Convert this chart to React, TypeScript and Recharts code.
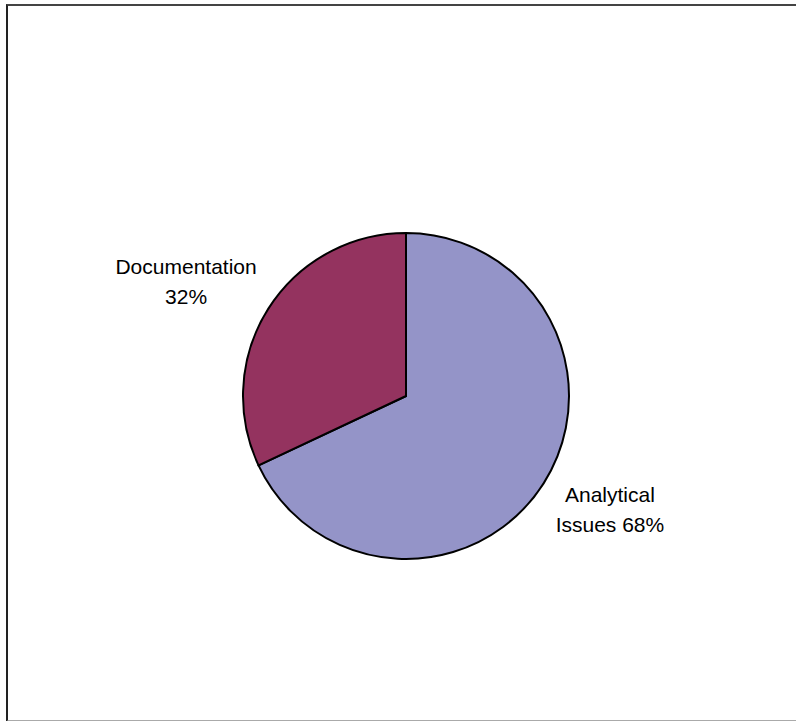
import React from 'react';
import { PieChart, Pie, Cell } from 'recharts';

const categories = ['Analytical Issues', 'Documentation'];
const shares = [68, 32];
const labelLines = [['Analytical', 'Issues 68%'], ['Documentation', '32%']];
const colors = ['#9494C8', '#94335F'];

const data = categories.map((name, i) => ({ name, value: shares[i] }));

const RAD = Math.PI / 180;

// labels sit on an ellipse around the pie, a bit wider than tall
const renderLabel = (props: any) => {
  const { cx, cy, midAngle, outerRadius, index } = props;
  const rx = outerRadius + 88;
  const ry = outerRadius + 50;
  const x = cx + rx * Math.cos(-midAngle * RAD) - 8;
  const y = cy + ry * Math.sin(-midAngle * RAD);
  const lines = labelLines[index];
  return (
    <text
      x={x}
      y={y - 8}
      textAnchor="middle"
      fill="#000"
      fontSize={21}
      fontFamily="'Liberation Sans', Arial, sans-serif"
    >
      {lines.map((l, i) => (
        <tspan key={i} x={x} dy={i === 0 ? 0 : 30}>
          {l}
        </tspan>
      ))}
    </text>
  );
};

const App: React.FC = () => {
  return (
    <div style={{ position: 'absolute', left: 0, top: 0, width: 796, height: 721, background: '#fff' }}>
      <div
        style={{
          position: 'absolute',
          left: 6,
          top: 4,
          width: 800,
          height: 714,
          borderTop: '2px solid #444',
          borderLeft: '2px solid #222',
          borderBottom: '2px solid #aaa',
        }}
      />
      <PieChart
        width={796}
        height={721}
        margin={{ top: 0, right: 0, bottom: 0, left: 0 }}
        style={{ position: 'absolute', left: 0, top: 0 }}
      >
        <Pie
          data={data}
          dataKey="value"
          nameKey="name"
          cx={406}
          cy={396}
          outerRadius={163}
          startAngle={90}
          endAngle={-270}
          stroke="#000"
          strokeWidth={2}
          label={renderLabel}
          labelLine={false}
          isAnimationActive={false}
        >
          {data.map((d, i) => (
            <Cell key={d.name} fill={colors[i]} />
          ))}
        </Pie>
      </PieChart>
    </div>
  );
};

export default App;
